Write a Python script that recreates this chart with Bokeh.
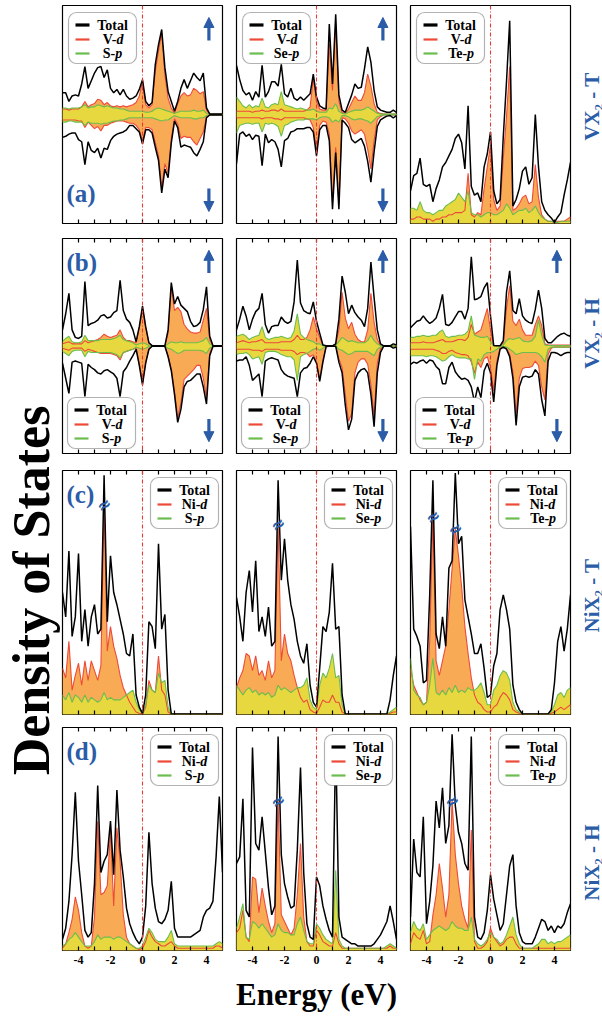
import math
import numpy as np
from bokeh.plotting import figure
from bokeh.layouts import row, column
from bokeh.models import Range1d, Span, BoxAnnotation, Arrow, NormalHead, FixedTicker, LinearAxis
from bokeh.core.properties import value
from bokeh.embed import file_html
from bokeh.resources import INLINE

# ---------------------------------------------------------------- data
energy = [-5.0, -4.8, -4.6, -4.4, -4.2, -4.0, -3.8, -3.6, -3.4, -3.2,
          -3.0, -2.8, -2.6, -2.4, -2.2, -2.0, -1.8, -1.6, -1.4, -1.2,
          -1.0, -0.8, -0.6, -0.4, -0.2, 0.0, 0.2, 0.4, 0.6, 0.8,
          1.0, 1.2, 1.4, 1.6, 1.8, 2.0, 2.2, 2.4, 2.6, 2.8,
          3.0, 3.2, 3.4, 3.6, 3.8, 4.0, 4.2, 4.4, 4.6, 4.8,
          5.0]

labelled_ticks = [-4, -2, 0, 2, 4]
minor_ticks = [-3, -1, 1, 3]
tick_labels = {-4: "-4", -2: "-2", 0: "0", 2: "2", 4: "4"}

row_labels = ["VX\u2082 - T", "VX\u2082 - H", "NiX\u2082 - T", "NiX\u2082 - H"]
panel_letters = ["(a)", "(b)", "(c)", "(d)"]

# VS2 - T (spin polarised)
vs2_t_tot_up = [2.0, 2.0, 1.2, 1.7, 1.8, 1.7, 2.8, 4.4, 2.4, 3.1,
                3.8, 4.3, 4.4, 3.4, 4.1, 2.4, 2.0, 2.3, 1.8, 2.3,
                1.7, 1.4, 1.5, 1.7, 2.3, 3.2, 1.2, 0.8, 1.1, 4.6,
                6.4, 7.8, 4.3, 2.1, 1.2, 0.3, 1.2, 2.4, 3.2, 2.4,
                3.1, 3.8, 3.4, 3.1, 3.8, 0.6, 0.05, 0.05, 0.05, 0.05,
                0.05]
vs2_t_tot_dn = [2.1, 2.0, 1.8, 1.7, 1.7, 2.3, 2.5, 4.6, 2.5, 3.3,
                3.5, 3.1, 4.0, 3.1, 3.2, 2.4, 2.0, 1.8, 1.7, 1.6,
                1.4, 1.0, 1.0, 1.3, 1.6, 2.7, 1.4, 1.4, 1.7, 3.0,
                4.2, 7.2, 5.0, 5.8, 2.6, 0.6, 1.2, 3.0, 2.8, 2.9,
                3.0, 3.5, 3.8, 3.2, 2.5, 0.3, 0.05, 0.05, 0.05, 0.05,
                0.05]
vs2_t_d_up = [0.5, 0.5, 0.4, 0.5, 0.5, 0.5, 0.7, 1.2, 0.7, 0.9,
              1.0, 1.4, 1.3, 0.9, 1.1, 0.8, 0.7, 0.8, 0.7, 0.8,
              0.7, 0.8, 0.9, 1.1, 1.7, 3.0, 0.9, 0.6, 0.9, 4.0,
              5.8, 7.5, 3.6, 1.5, 0.6, 0.1, 1.0, 1.7, 2.0, 1.7,
              1.8, 2.4, 2.2, 1.9, 2.1, 0.4, 0.03, 0.02, 0.02, 0.02,
              0.02]
vs2_t_d_dn = [0.5, 0.5, 0.5, 0.5, 0.5, 0.6, 0.6, 1.2, 0.7, 1.0,
              1.3, 1.1, 1.5, 1.0, 1.0, 0.8, 0.7, 0.6, 0.6, 0.6,
              0.7, 0.8, 0.8, 1.0, 1.4, 2.5, 1.2, 1.2, 1.4, 2.6,
              3.8, 6.8, 4.5, 5.4, 2.2, 0.4, 0.9, 2.2, 2.0, 2.1,
              2.1, 2.5, 2.8, 2.2, 1.6, 0.2, 0.02, 0.02, 0.02, 0.02,
              0.02]
vs2_t_p_up = [0.6, 0.6, 0.5, 0.6, 0.6, 0.6, 0.7, 0.9, 0.6, 0.7,
              0.7, 0.9, 0.8, 0.7, 0.8, 0.7, 0.6, 0.6, 0.5, 0.5,
              0.4, 0.3, 0.3, 0.3, 0.3, 0.3, 0.2, 0.2, 0.3, 0.5,
              0.6, 0.5, 0.4, 0.3, 0.2, 0.1, 0.2, 0.3, 0.3, 0.3,
              0.3, 0.4, 0.3, 0.3, 0.4, 0.1, 0.02, 0.02, 0.02, 0.02,
              0.02]
vs2_t_p_dn = [0.7, 0.7, 0.6, 0.6, 0.7, 0.7, 0.7, 1.0, 0.7, 0.8,
              0.8, 0.8, 0.9, 0.8, 0.8, 0.7, 0.6, 0.6, 0.5, 0.5,
              0.4, 0.3, 0.3, 0.3, 0.3, 0.3, 0.3, 0.3, 0.3, 0.4,
              0.5, 0.6, 0.5, 0.5, 0.3, 0.1, 0.2, 0.3, 0.3, 0.3,
              0.3, 0.4, 0.4, 0.3, 0.3, 0.1, 0.02, 0.02, 0.02, 0.02,
              0.02]

# VSe2 - T (spin polarised)
vse2_t_tot_up = [4.5, 3.2, 2.2, 1.8, 2.0, 1.3, 2.1, 1.6, 4.5, 1.6,
                 2.1, 3.0, 3.0, 2.6, 4.6, 1.9, 1.6, 2.4, 1.5, 1.3,
                 1.6, 1.3, 1.6, 1.9, 3.7, 1.6, 0.8, 0.6, 0.5, 8.3,
                 2.8, 9.2, 1.8, 0.4, 0.2, 1.0, 1.8, 2.8, 2.4, 2.5,
                 4.2, 6.2, 4.8, 2.2, 0.7, 0.4, 0.3, 0.2, 0.2, 0.4,
                 0.2]
vse2_t_tot_dn = [4.5, 1.8, 1.6, 2.0, 1.8, 2.3, 1.9, 2.0, 4.7, 1.8,
                 2.6, 2.3, 2.5, 3.2, 4.8, 2.4, 2.2, 1.6, 1.5, 1.3,
                 1.3, 1.3, 1.2, 1.2, 1.6, 3.8, 1.4, 1.0, 1.0, 2.4,
                 8.7, 3.5, 8.7, 0.5, 0.8, 1.2, 2.3, 2.6, 2.4, 2.2,
                 2.9, 4.3, 6.2, 3.4, 1.1, 0.5, 0.3, 0.15, 0.1, 0.3,
                 0.1]
vse2_t_d_up = [0.3, 0.3, 0.3, 0.3, 0.3, 0.2, 0.3, 0.3, 0.4, 0.3,
               0.3, 0.4, 0.4, 0.3, 0.5, 0.3, 0.3, 0.3, 0.3, 0.3,
               0.3, 0.3, 0.4, 0.7, 3.3, 1.2, 0.5, 0.4, 0.4, 6.5,
               2.2, 8.4, 1.2, 0.2, 0.1, 0.5, 1.1, 1.7, 1.3, 1.3,
               2.0, 3.7, 2.6, 1.0, 0.2, 0.1, 0.05, 0.05, 0.05, 0.05,
               0.05]
vse2_t_d_dn = [0.3, 0.3, 0.3, 0.3, 0.3, 0.3, 0.3, 0.3, 0.4, 0.3,
               0.3, 0.3, 0.4, 0.4, 0.5, 0.3, 0.3, 0.3, 0.3, 0.3,
               0.3, 0.3, 0.4, 0.5, 1.2, 3.4, 1.0, 0.6, 0.7, 1.8,
               8.0, 3.0, 8.3, 0.3, 0.4, 0.8, 1.5, 1.8, 1.6, 1.4,
               1.8, 3.2, 5.0, 2.4, 0.5, 0.2, 0.05, 0.05, 0.05, 0.05,
               0.05]
vse2_t_p_up = [1.6, 1.2, 0.8, 0.6, 0.9, 0.6, 0.8, 0.7, 1.5, 0.7,
               0.6, 0.9, 1.0, 0.9, 2.1, 0.9, 0.8, 0.7, 0.6, 0.5,
               0.6, 0.5, 0.4, 0.4, 0.5, 0.3, 0.2, 0.2, 0.2, 0.6,
               0.5, 1.0, 0.3, 0.1, 0.05, 0.2, 0.3, 0.4, 0.4, 0.4,
               0.5, 0.7, 0.5, 0.3, 0.1, 0.05, 0.03, 0.03, 0.03, 0.03,
               0.03]
vse2_t_p_dn = [1.7, 1.0, 0.9, 0.8, 0.8, 0.9, 0.8, 0.8, 1.6, 0.8,
               0.9, 0.8, 0.9, 1.1, 2.0, 1.0, 0.9, 0.7, 0.6, 0.5,
               0.5, 0.5, 0.4, 0.4, 0.4, 0.5, 0.3, 0.2, 0.2, 0.3,
               0.7, 0.5, 0.7, 0.1, 0.1, 0.2, 0.4, 0.5, 0.4, 0.4,
               0.5, 0.6, 0.8, 0.5, 0.2, 0.1, 0.03, 0.03, 0.03, 0.03,
               0.03]

# VTe2 - T (non-magnetic)
vte2_t_tot = [1.5, 2.2, 2.3, 3.0, 1.8, 1.7, 1.8, 1.0, 1.6, 2.0,
              2.6, 2.8, 3.1, 3.4, 3.9, 4.1, 3.7, 2.5, 5.4, 1.7,
              1.3, 1.4, 1.0, 2.6, 3.2, 4.2, 1.5, 0.9, 1.1, 4.0,
              6.5, 9.3, 0.8, 1.1, 1.6, 2.4, 2.6, 1.8, 2.1, 5.0,
              2.6, 1.0, 0.6, 0.4, 0.25, 0.05, 0.3, 0.5, 1.3, 2.0,
              2.8]
vte2_t_d = [0.2, 0.2, 0.3, 0.3, 0.2, 0.2, 0.2, 0.1, 0.2, 0.2,
            0.3, 0.3, 0.4, 0.4, 0.5, 0.5, 0.5, 0.6, 2.3, 0.4,
            0.3, 0.5, 0.4, 1.6, 2.6, 3.6, 1.1, 0.6, 0.8, 3.0,
            4.9, 7.2, 0.6, 0.7, 0.9, 1.2, 1.3, 0.9, 1.0, 2.7,
            1.2, 0.4, 0.2, 0.1, 0.1, 0.05, 0.1, 0.1, 0.1, 0.2,
            0.3]
vte2_t_p = [0.7, 0.7, 0.6, 1.0, 0.6, 0.5, 0.5, 0.4, 0.5, 0.6,
            0.6, 0.8, 0.9, 1.0, 1.1, 1.4, 1.2, 1.0, 1.5, 0.5,
            0.4, 0.4, 0.3, 0.4, 0.5, 0.5, 0.4, 0.4, 0.5, 0.6,
            0.9, 0.7, 0.4, 0.5, 0.6, 0.6, 0.7, 0.5, 0.6, 0.8,
            0.5, 0.3, 0.2, 0.1, 0.1, 0.05, 0.05, 0.1, 0.1, 0.1,
            0.1]

# VS2 - H (spin polarised)
vs2_h_tot_up = [1.5, 3.0, 4.9, 1.5, 0.8, 0.7, 0.9, 6.0, 1.9, 2.1,
                2.2, 2.4, 2.8, 2.9, 2.6, 2.7, 3.1, 3.3, 6.1, 3.3,
                2.5, 2.2, 1.5, 0.4, 1.8, 3.7, 1.8, 0.3, 0.03, 0.02,
                0.02, 0.02, 0.03, 1.5, 5.9, 3.9, 4.6, 3.8, 3.5, 3.2,
                2.3, 1.8, 1.9, 2.2, 3.4, 5.5, 0.9, 0.05, 0.02, 0.02,
                0.02]
vs2_h_tot_dn = [1.6, 3.0, 4.4, 1.5, 1.4, 1.5, 1.6, 4.7, 1.7, 2.0,
                2.2, 2.5, 2.6, 2.3, 2.2, 2.4, 2.6, 3.0, 4.7, 2.4,
                2.0, 1.4, 0.9, 0.3, 1.8, 3.6, 1.6, 0.3, 0.02, 0.02,
                0.02, 0.02, 0.02, 1.0, 2.3, 4.5, 7.1, 5.9, 3.8, 3.3,
                3.2, 2.9, 2.6, 2.6, 3.8, 5.4, 0.9, 0.05, 0.02, 0.02,
                0.02]
vs2_h_d_up = [0.2, 0.3, 0.4, 0.2, 0.2, 0.2, 0.2, 0.5, 0.3, 0.4,
              0.5, 0.6, 0.8, 1.1, 0.9, 0.8, 0.9, 1.0, 1.5, 0.8,
              0.5, 0.5, 0.4, 0.3, 1.7, 3.5, 1.7, 0.3, 0.02, 0.02,
              0.02, 0.02, 0.02, 1.2, 5.5, 3.3, 3.6, 3.2, 2.0, 1.6,
              1.3, 1.2, 1.2, 1.3, 2.4, 3.5, 0.6, 0.03, 0.02, 0.02,
              0.02]
vs2_h_d_dn = [0.2, 0.3, 0.4, 0.2, 0.2, 0.2, 0.2, 0.5, 0.3, 0.4,
              0.5, 0.6, 0.7, 0.7, 0.7, 0.7, 0.8, 0.9, 1.3, 0.6,
              0.5, 0.4, 0.3, 0.2, 1.7, 3.4, 1.5, 0.3, 0.02, 0.02,
              0.02, 0.02, 0.02, 0.9, 2.1, 4.2, 6.7, 5.3, 3.1, 2.8,
              2.5, 2.2, 1.8, 1.8, 3.0, 4.8, 0.7, 0.03, 0.02, 0.02,
              0.02]
vs2_h_p_up = [0.4, 0.7, 0.9, 0.4, 0.3, 0.3, 0.4, 1.0, 0.5, 0.5,
              0.5, 0.5, 0.6, 0.6, 0.6, 0.6, 0.7, 0.8, 1.0, 0.6,
              0.5, 0.4, 0.3, 0.1, 0.2, 0.3, 0.2, 0.05, 0.02, 0.02,
              0.02, 0.02, 0.02, 0.2, 0.4, 0.3, 0.3, 0.4, 0.3, 0.3,
              0.3, 0.3, 0.3, 0.4, 0.5, 0.8, 0.2, 0.02, 0.02, 0.02,
              0.02]
vs2_h_p_dn = [0.5, 0.7, 0.9, 0.5, 0.4, 0.4, 0.4, 1.0, 0.5, 0.6,
              0.6, 0.6, 0.6, 0.6, 0.6, 0.6, 0.7, 0.8, 1.1, 0.6,
              0.5, 0.4, 0.3, 0.1, 0.2, 0.3, 0.2, 0.05, 0.02, 0.02,
              0.02, 0.02, 0.02, 0.2, 0.3, 0.5, 0.7, 0.6, 0.4, 0.4,
              0.4, 0.4, 0.4, 0.4, 0.5, 0.7, 0.2, 0.02, 0.02, 0.02,
              0.02]

# VSe2 - H (spin polarised)
vse2_h_tot_up = [1.5, 2.5, 3.7, 2.8, 1.5, 2.5, 3.2, 3.5, 4.9, 2.0,
                 1.2, 1.8, 1.9, 1.9, 2.7, 2.3, 2.1, 2.3, 4.1, 8.0,
                 4.0, 3.3, 3.1, 3.0, 4.1, 2.3, 1.2, 0.1, 0.02, 0.02,
                 0.02, 0.2, 2.5, 6.5, 5.0, 3.0, 3.8, 3.1, 2.7, 2.4,
                 1.8, 3.5, 7.8, 4.5, 1.5, 0.2, 0.02, 0.02, 0.02, 0.2,
                 0.1]
vse2_h_tot_dn = [1.4, 1.3, 1.3, 1.0, 1.8, 3.2, 2.9, 2.6, 4.7, 1.4,
                 1.2, 1.1, 1.2, 1.3, 2.2, 2.6, 2.8, 2.9, 3.0, 4.7,
                 2.5, 2.1, 2.0, 1.6, 1.0, 1.6, 3.3, 1.5, 0.05, 0.02,
                 0.02, 0.02, 1.5, 2.5, 5.5, 7.8, 6.8, 3.2, 2.5, 2.2,
                 2.1, 2.5, 4.5, 7.5, 2.5, 0.6, 0.02, 0.02, 0.02, 0.2,
                 0.1]
vse2_h_d_up = [0.3, 0.4, 0.5, 0.4, 0.3, 0.4, 0.4, 0.5, 0.6, 0.3,
               0.3, 0.3, 0.3, 0.3, 0.4, 0.4, 0.4, 0.4, 0.6, 1.0,
               0.6, 0.6, 0.8, 1.5, 2.7, 1.6, 0.8, 0.05, 0.02, 0.02,
               0.02, 0.2, 1.5, 5.0, 2.6, 1.6, 2.2, 1.1, 0.6, 0.4,
               0.4, 1.5, 4.9, 2.2, 0.6, 0.05, 0.02, 0.02, 0.02, 0.05,
               0.03]
vse2_h_d_dn = [0.3, 0.3, 0.3, 0.3, 0.3, 0.4, 0.4, 0.4, 0.5, 0.3,
               0.3, 0.3, 0.3, 0.3, 0.4, 0.4, 0.4, 0.4, 0.5, 0.8,
               0.6, 0.6, 0.7, 1.0, 0.8, 1.5, 3.1, 1.3, 0.05, 0.02,
               0.02, 0.02, 1.2, 2.0, 4.5, 7.0, 6.3, 2.5, 1.5, 1.2,
               1.2, 1.7, 3.6, 6.5, 1.6, 0.3, 0.02, 0.02, 0.02, 0.05,
               0.03]
vse2_h_p_up = [0.9, 1.0, 1.1, 0.9, 0.6, 0.8, 0.9, 1.0, 1.8, 0.8,
               0.6, 0.7, 0.8, 0.8, 0.9, 0.8, 0.7, 0.8, 1.4, 3.0,
               1.1, 0.8, 0.6, 0.5, 0.4, 0.2, 0.2, 0.02, 0.02, 0.02,
               0.02, 0.05, 0.4, 0.8, 0.6, 0.4, 0.5, 0.4, 0.3, 0.3,
               0.3, 0.5, 1.0, 0.5, 0.2, 0.02, 0.02, 0.02, 0.02, 0.02,
               0.02]
vse2_h_p_dn = [0.8, 0.7, 0.7, 0.6, 0.8, 1.2, 1.1, 1.0, 1.7, 0.6,
               0.5, 0.5, 0.5, 0.6, 0.8, 0.9, 1.0, 1.0, 1.3, 3.2,
               1.0, 0.8, 0.7, 0.5, 0.3, 0.2, 0.4, 0.2, 0.02, 0.02,
               0.02, 0.02, 0.3, 0.4, 0.6, 0.8, 0.7, 0.5, 0.5, 0.5,
               0.5, 0.5, 0.7, 0.9, 0.3, 0.1, 0.02, 0.02, 0.02, 0.02,
               0.02]

# VTe2 - H (spin polarised)
vte2_h_tot_up = [1.7, 2.0, 2.3, 2.4, 2.8, 2.4, 2.1, 2.3, 2.6, 3.5,
                 4.8, 2.0, 1.9, 2.2, 2.7, 3.2, 3.2, 2.5, 3.5, 8.3,
                 4.3, 4.4, 4.6, 5.4, 5.9, 2.8, 0.05, 0.02, 0.02, 0.5,
                 5.0, 7.0, 3.3, 3.0, 4.4, 2.8, 2.4, 2.2, 2.1, 3.4,
                 5.2, 3.5, 0.7, 0.3, 0.3, 0.6, 0.9, 1.1, 1.2, 1.0,
                 0.9]
vte2_h_tot_dn = [1.7, 1.5, 1.6, 1.4, 1.3, 1.6, 1.3, 1.4, 1.9, 2.2,
                 3.5, 3.5, 2.0, 1.5, 2.4, 2.8, 3.1, 3.0, 3.2, 3.8,
                 5.2, 3.8, 4.8, 2.3, 1.6, 2.5, 5.2, 1.8, 0.3, 0.1,
                 0.3, 1.0, 3.0, 7.4, 3.8, 2.9, 2.8, 2.9, 2.8, 2.2,
                 2.6, 5.0, 6.5, 1.4, 0.6, 0.6, 0.7, 0.9, 0.7, 0.6,
                 0.6]
vte2_h_d_up = [0.3, 0.3, 0.3, 0.3, 0.4, 0.3, 0.3, 0.3, 0.4, 0.5,
               0.6, 0.4, 0.4, 0.4, 0.5, 0.6, 0.6, 0.5, 0.8, 2.0,
               1.1, 1.3, 1.5, 2.5, 3.5, 1.5, 0.05, 0.02, 0.02, 0.3,
               3.5, 5.6, 2.3, 1.9, 2.5, 1.5, 1.0, 1.0, 1.0, 2.0,
               2.8, 1.9, 0.2, 0.1, 0.1, 0.1, 0.1, 0.1, 0.1, 0.1,
               0.1]
vte2_h_d_dn = [0.3, 0.3, 0.3, 0.3, 0.3, 0.3, 0.3, 0.3, 0.4, 0.5,
               0.7, 0.7, 0.5, 0.4, 0.6, 0.7, 0.8, 0.8, 0.9, 1.5,
               2.5, 1.5, 2.0, 1.2, 1.0, 2.0, 4.2, 1.4, 0.2, 0.05,
               0.2, 0.8, 2.4, 6.3, 3.0, 2.1, 2.0, 2.0, 1.9, 1.4,
               1.8, 3.8, 5.0, 0.8, 0.2, 0.1, 0.1, 0.1, 0.1, 0.1,
               0.1]
vte2_h_p_up = [0.8, 0.8, 0.9, 0.9, 1.0, 0.9, 0.9, 1.0, 1.0, 1.3,
               1.5, 0.9, 0.8, 0.9, 0.9, 1.0, 1.0, 1.1, 1.4, 2.8,
               1.0, 0.9, 0.8, 0.8, 0.9, 0.4, 0.02, 0.02, 0.02, 0.1,
               0.5, 0.7, 0.6, 0.7, 0.8, 0.5, 0.4, 0.4, 0.5, 0.9,
               2.4, 1.0, 0.1, 0.05, 0.05, 0.05, 0.05, 0.05, 0.05, 0.05,
               0.05]
vte2_h_p_dn = [0.9, 0.9, 0.9, 0.9, 0.9, 1.0, 0.9, 0.9, 1.0, 1.2,
               1.4, 1.3, 1.0, 0.8, 1.0, 1.1, 1.1, 1.1, 1.2, 1.2,
               3.1, 1.2, 1.4, 0.8, 0.6, 0.6, 0.5, 0.3, 0.1, 0.03,
               0.1, 0.3, 0.5, 0.8, 0.7, 0.6, 0.6, 0.6, 0.6, 0.6,
               0.7, 1.0, 1.5, 0.3, 0.1, 0.1, 0.1, 0.1, 0.1, 0.1,
               0.1]

# NiS2 - T
nis2_t_tot = [5.0, 4.0, 6.7, 3.2, 4.0, 6.6, 3.0, 4.3, 2.8, 4.0,
              4.5, 3.3, 3.5, 9.8, 3.8, 6.5, 5.0, 4.5, 3.9, 3.3,
              2.5, 2.4, 3.3, 0.8, 0.3, 0.05, 0.8, 3.8, 3.6, 2.7,
              7.0, 3.5, 4.1, 1.0, 0.02, 0.02, 0.02, 0.02, 0.02, 0.02,
              0.02, 0.02, 0.02, 0.02, 0.02, 0.02, 0.02, 0.02, 0.02, 0.02,
              0.02]
nis2_t_d = [1.9, 1.5, 3.0, 1.0, 1.6, 2.1, 1.2, 2.2, 1.4, 2.2,
            1.8, 1.4, 2.0, 8.6, 2.6, 3.6, 2.8, 2.3, 1.6, 1.1,
            0.8, 0.5, 0.3, 0.1, 0.05, 0.02, 0.3, 1.4, 1.0, 0.9,
            2.4, 1.0, 0.8, 0.1, 0.02, 0.02, 0.02, 0.02, 0.02, 0.02,
            0.02, 0.02, 0.02, 0.02, 0.02, 0.02, 0.02, 0.02, 0.02, 0.02,
            0.02]
nis2_t_p = [0.8, 0.6, 0.9, 0.5, 0.8, 0.7, 0.5, 0.8, 0.5, 0.7,
            0.6, 0.5, 0.6, 0.9, 0.6, 0.7, 0.6, 0.6, 0.6, 0.7,
            0.8, 0.9, 1.0, 0.5, 0.2, 0.02, 0.4, 1.2, 1.0, 0.9,
            1.7, 1.3, 1.4, 0.3, 0.02, 0.02, 0.02, 0.02, 0.02, 0.02,
            0.02, 0.02, 0.02, 0.02, 0.02, 0.02, 0.02, 0.02, 0.02, 0.02,
            0.02]

# NiSe2 - T
nise2_t_tot = [4.8, 4.0, 3.0, 5.0, 5.9, 4.2, 6.3, 3.4, 4.0, 3.2,
               4.4, 2.8, 3.0, 9.6, 5.5, 7.2, 5.5, 4.5, 3.9, 3.0,
               2.4, 2.1, 2.9, 1.2, 0.5, 0.3, 1.9, 3.6, 3.4, 4.2,
               6.2, 3.5, 3.6, 0.8, 0.02, 0.02, 0.02, 0.02, 0.02, 0.02,
               0.02, 0.02, 0.02, 0.02, 0.02, 0.02, 0.02, 0.02, 0.6, 1.6,
               2.4]
nise2_t_d = [1.1, 1.5, 1.8, 2.5, 2.4, 1.8, 2.4, 1.6, 1.8, 1.4,
             2.2, 1.5, 1.8, 7.8, 2.2, 3.3, 2.5, 2.2, 1.6, 1.1,
             0.7, 0.5, 0.6, 0.2, 0.1, 0.05, 0.3, 0.6, 0.5, 0.5,
             0.8, 0.5, 0.5, 0.1, 0.02, 0.02, 0.02, 0.02, 0.02, 0.02,
             0.02, 0.02, 0.02, 0.02, 0.02, 0.02, 0.02, 0.02, 0.05, 0.1,
             0.1]
nise2_t_p = [1.2, 1.0, 0.8, 1.0, 1.1, 0.9, 1.0, 0.8, 0.9, 0.8,
             0.9, 0.7, 0.8, 1.2, 1.0, 1.1, 1.0, 0.9, 1.0, 1.1,
             1.1, 1.2, 1.5, 0.6, 0.3, 0.2, 1.2, 1.7, 1.5, 1.9,
             2.5, 1.5, 1.6, 0.4, 0.02, 0.02, 0.02, 0.02, 0.02, 0.02,
             0.02, 0.02, 0.02, 0.02, 0.02, 0.02, 0.02, 0.02, 0.1, 0.2,
             0.3]

# NiTe2 - T
nite2_t_tot = [7.7, 3.5, 3.2, 2.8, 1.3, 1.4, 4.9, 9.6, 3.3, 2.7,
               4.0, 2.8, 6.0, 6.3, 9.9, 7.0, 7.3, 4.7, 4.0, 3.3,
               2.5, 2.5, 2.9, 1.9, 0.7, 0.8, 2.0, 2.5, 4.3, 4.9,
               4.3, 3.5, 1.2, 0.5, 0.2, 0.02, 0.02, 0.02, 0.02, 0.02,
               0.02, 0.02, 0.02, 0.02, 0.2, 1.3, 3.0, 3.6, 2.6, 3.5,
               4.9]
nite2_t_d = [1.9, 1.2, 0.9, 0.6, 0.4, 0.5, 3.0, 8.1, 2.2, 1.6,
             2.2, 2.8, 4.3, 6.0, 7.6, 6.5, 5.2, 3.6, 2.5, 1.5,
             0.8, 0.5, 0.4, 0.2, 0.1, 0.1, 0.3, 0.4, 0.7, 0.9,
             0.8, 0.6, 0.2, 0.1, 0.05, 0.02, 0.02, 0.02, 0.02, 0.02,
             0.02, 0.02, 0.02, 0.02, 0.05, 0.1, 0.2, 0.3, 0.2, 0.3,
             0.4]
nite2_t_p = [2.3, 1.0, 0.8, 0.7, 0.4, 0.5, 1.2, 2.3, 0.9, 0.8,
             1.0, 0.8, 1.1, 0.9, 1.2, 0.9, 1.0, 0.9, 1.1, 1.0,
             1.0, 1.1, 1.3, 0.9, 0.4, 0.4, 1.0, 1.2, 1.6, 1.8,
             1.7, 1.4, 0.5, 0.2, 0.1, 0.02, 0.02, 0.02, 0.02, 0.02,
             0.02, 0.02, 0.02, 0.02, 0.1, 0.4, 0.8, 0.9, 0.7, 1.0,
             1.1]

# NiS2 - H
nis2_h_tot = [0.5, 1.0, 2.2, 4.3, 7.1, 4.0, 2.5, 0.9, 0.6, 0.8,
              3.0, 7.4, 3.5, 4.0, 4.3, 5.8, 3.4, 7.2, 4.5, 3.3,
              1.9, 1.2, 0.8, 0.5, 0.3, 0.6, 2.0, 5.3, 3.0, 1.9,
              1.3, 1.2, 1.4, 1.8, 3.1, 1.0, 0.6, 0.6, 0.6, 0.6,
              0.6, 0.7, 0.8, 0.9, 1.5, 1.8, 1.9, 2.2, 4.2, 6.9,
              3.5]
nis2_h_d = [0.1, 0.3, 0.8, 1.4, 2.4, 1.8, 0.8, 0.2, 0.1, 0.2,
            1.5, 5.8, 2.5, 2.6, 2.9, 5.4, 2.0, 5.5, 4.0, 1.6,
            0.6, 0.3, 0.2, 0.1, 0.05, 0.1, 0.4, 0.9, 0.6, 0.4,
            0.3, 0.2, 0.2, 0.3, 0.4, 0.2, 0.1, 0.1, 0.1, 0.1,
            0.1, 0.1, 0.1, 0.1, 0.1, 0.1, 0.1, 0.1, 0.2, 0.2,
            0.1]
nis2_h_p = [0.2, 0.3, 0.5, 0.6, 0.8, 0.6, 0.4, 0.2, 0.2, 0.2,
            0.4, 0.7, 0.5, 0.6, 0.6, 0.6, 0.5, 0.6, 0.6, 0.5,
            0.4, 0.3, 0.2, 0.1, 0.1, 0.2, 0.6, 1.0, 0.8, 0.5,
            0.4, 0.4, 0.4, 0.6, 0.9, 0.3, 0.2, 0.2, 0.2, 0.2,
            0.2, 0.2, 0.2, 0.2, 0.2, 0.2, 0.2, 0.2, 0.3, 0.4,
            0.3]

# NiSe2 - H
nise2_h_tot = [3.9, 4.2, 6.8, 1.8, 1.5, 9.1, 4.8, 4.5, 6.0, 4.4,
               2.8, 1.6, 2.0, 9.6, 4.3, 3.0, 2.4, 1.9, 2.0, 4.5,
               8.2, 3.5, 1.2, 0.6, 0.5, 3.3, 2.9, 2.0, 1.4, 0.9,
               0.6, 9.5, 1.5, 0.6, 0.5, 0.4, 0.3, 0.3, 0.2, 0.2,
               0.2, 0.2, 0.2, 0.3, 0.5, 0.7, 1.0, 1.3, 2.0, 1.3,
               0.5]
nise2_h_d = [0.8, 1.0, 1.8, 0.6, 0.4, 3.3, 3.2, 1.7, 2.8, 2.0,
             1.3, 0.8, 1.2, 6.7, 1.6, 1.3, 1.0, 0.7, 1.0, 2.5,
             4.8, 1.5, 0.4, 0.2, 0.2, 0.9, 0.7, 0.4, 0.3, 0.2,
             0.2, 0.8, 0.3, 0.1, 0.1, 0.1, 0.1, 0.1, 0.1, 0.1,
             0.1, 0.1, 0.1, 0.1, 0.1, 0.1, 0.1, 0.1, 0.2, 0.1,
             0.1]
nise2_h_p = [1.0, 1.5, 2.1, 0.6, 0.5, 1.3, 1.2, 1.0, 1.2, 1.0,
             0.8, 0.6, 0.7, 1.2, 0.9, 0.8, 0.8, 0.7, 0.7, 1.2,
             1.5, 0.9, 0.4, 0.3, 0.3, 1.2, 1.0, 0.7, 0.5, 0.4,
             0.3, 3.6, 0.5, 0.2, 0.1, 0.1, 0.1, 0.1, 0.1, 0.1,
             0.1, 0.1, 0.1, 0.1, 0.1, 0.1, 0.1, 0.2, 0.3, 0.2,
             0.1]

# NiTe2 - H
nite2_h_tot = [1.5, 5.0, 3.5, 3.3, 6.0, 1.2, 2.2, 3.8, 6.7, 5.5,
               7.3, 4.8, 5.6, 9.7, 6.5, 5.3, 4.8, 3.9, 3.6, 9.6,
               1.5, 0.6, 0.5, 0.8, 1.8, 3.4, 2.3, 1.6, 0.9, 1.2,
               2.5, 3.8, 4.3, 2.0, 0.8, 0.4, 0.3, 0.3, 0.3, 0.6,
               1.0, 1.4, 1.3, 0.9, 1.1, 0.8, 1.1, 1.0, 1.2, 1.7,
               2.1]
nite2_h_d = [0.3, 0.8, 0.6, 0.5, 0.9, 0.3, 0.4, 1.6, 2.5, 3.9,
             2.8, 1.5, 2.5, 6.7, 4.3, 3.0, 2.0, 1.4, 1.0, 5.4,
             0.4, 0.1, 0.1, 0.2, 0.4, 1.0, 0.6, 0.4, 0.2, 0.3,
             0.5, 0.6, 0.6, 0.3, 0.1, 0.1, 0.1, 0.1, 0.1, 0.1,
             0.1, 0.1, 0.1, 0.1, 0.1, 0.1, 0.1, 0.1, 0.1, 0.1,
             0.1]
nite2_h_p = [0.8, 1.3, 1.0, 0.9, 1.2, 0.5, 0.7, 0.9, 1.0, 1.1,
             1.0, 0.9, 1.0, 1.3, 1.1, 1.0, 1.0, 0.9, 0.9, 1.5,
             0.5, 0.3, 0.2, 0.3, 0.5, 0.8, 0.6, 0.5, 0.3, 0.4,
             0.7, 1.1, 1.5, 0.7, 0.3, 0.1, 0.1, 0.1, 0.1, 0.2,
             0.3, 0.5, 0.5, 0.3, 0.4, 0.3, 0.4, 0.4, 0.5, 0.6,
             0.7]

# ---------------------------------------------------------------- style
SERIF = "Liberation Serif"
BLUE = "#2b5ca8"
ORANGE = "#f8aa55"
RED = "#ee4a3a"
YELLOW = "#e7d840"
GREEN = "#6bbd4f"
ZERO_RED = "#e53b30"

X_RANGE = (-5.0, 5.0)
FRAME_W = 160
COL_GEOM = [(1, 7), (7, 7), (7, 2)]                    # border left / right
ROW_GEOM = [(5, 218, 7), (8, 215, 8), (9, 244, 6), (7, 223, 81)]  # top, frame, bottom
LEG_W, LEG_H = 68, 51
PREFIX_EM = {"V-": 1.055, "Ni-": 1.333, "S-": 0.889, "Se-": 1.333, "Te-": 1.444}

panels = [
    # row 0 : VX2 - T
    dict(r=0, c=0, spin=True, tot=(vs2_t_tot_up, vs2_t_tot_dn), d=(vs2_t_d_up, vs2_t_d_dn),
         p=(vs2_t_p_up, vs2_t_p_dn), metal="V-", chal="S-", breaks=[]),
    dict(r=0, c=1, spin=True, tot=(vse2_t_tot_up, vse2_t_tot_dn), d=(vse2_t_d_up, vse2_t_d_dn),
         p=(vse2_t_p_up, vse2_t_p_dn), metal="V-", chal="Se-", breaks=[]),
    dict(r=0, c=2, spin=False, tot=vte2_t_tot, d=vte2_t_d, p=vte2_t_p, metal="V-", chal="Te-", breaks=[]),
    # row 1 : VX2 - H
    dict(r=1, c=0, spin=True, tot=(vs2_h_tot_up, vs2_h_tot_dn), d=(vs2_h_d_up, vs2_h_d_dn),
         p=(vs2_h_p_up, vs2_h_p_dn), metal="V-", chal="S-", breaks=[]),
    dict(r=1, c=1, spin=True, tot=(vse2_h_tot_up, vse2_h_tot_dn), d=(vse2_h_d_up, vse2_h_d_dn),
         p=(vse2_h_p_up, vse2_h_p_dn), metal="V-", chal="Se-", breaks=[]),
    dict(r=1, c=2, spin=True, tot=(vte2_h_tot_up, vte2_h_tot_dn), d=(vte2_h_d_up, vte2_h_d_dn),
         p=(vte2_h_p_up, vte2_h_p_dn), metal="V-", chal="Te-", breaks=[]),
    # row 2 : NiX2 - T
    dict(r=2, c=0, spin=False, tot=nis2_t_tot, d=nis2_t_d, p=nis2_t_p, metal="Ni-", chal="S-", breaks=[13]),
    dict(r=2, c=1, spin=False, tot=nise2_t_tot, d=nise2_t_d, p=nise2_t_p, metal="Ni-", chal="Se-", breaks=[13]),
    dict(r=2, c=2, spin=False, tot=nite2_t_tot, d=nite2_t_d, p=nite2_t_p, metal="Ni-", chal="Te-", breaks=[7, 14]),
    # row 3 : NiX2 - H
    dict(r=3, c=0, spin=False, tot=nis2_h_tot, d=nis2_h_d, p=nis2_h_p, metal="Ni-", chal="S-", breaks=[]),
    dict(r=3, c=1, spin=False, tot=nise2_h_tot, d=nise2_h_d, p=nise2_h_p, metal="Ni-", chal="Se-", breaks=[13]),
    dict(r=3, c=2, spin=False, tot=nite2_h_tot, d=nite2_h_d, p=nite2_h_p, metal="Ni-", chal="Te-", breaks=[13]),
]


def tick_axis(with_labels):
    ax = LinearAxis(ticker=FixedTicker(ticks=labelled_ticks, minor_ticks=minor_ticks),
                    major_tick_in=4, major_tick_out=0, minor_tick_in=4, minor_tick_out=0,
                    axis_line_color=None, major_tick_line_color="black", major_tick_line_width=1.2,
                    minor_tick_line_color="black", minor_tick_line_width=1.2)
    if with_labels:
        ax.major_label_overrides = tick_labels
        ax.major_label_text_font = SERIF
        ax.major_label_text_font_style = "bold"
        ax.major_label_text_font_size = "12px"
        ax.major_label_text_color = "black"
        ax.major_label_standoff = 5
    else:
        ax.major_label_text_font_size = "0px"
        ax.major_label_text_color = None
        ax.major_label_standoff = 0
    return ax


def build_panel(spec):
    r, c = spec["r"], spec["c"]
    bt, fh, bb = ROW_GEOM[r]
    bl, br = COL_GEOM[c]
    yr = (-10.0, 10.0) if spec["spin"] else (0.0, 10.0)
    p = figure(width=bl + FRAME_W + br, height=bt + fh + bb,
               x_range=Range1d(*X_RANGE), y_range=Range1d(*yr),
               x_axis_type=None, y_axis_type=None, toolbar_location=None,
               output_backend="svg", min_border_left=bl, min_border_right=br,
               min_border_top=bt, min_border_bottom=bb)
    p.outline_line_color = "black"
    p.outline_line_width = 1.2
    p.outline_line_alpha = 1.0
    p.background_fill_color = "white"
    p.border_fill_color = "white"

    xs_per_px = (X_RANGE[1] - X_RANGE[0]) / FRAME_W
    ys_per_px = (yr[1] - yr[0]) / fh

    def xd(px):
        return X_RANGE[0] + px * xs_per_px

    def yd(py):
        return yr[1] - py * ys_per_px

    # axes carrying the inward ticks
    bottom = tick_axis(r == 3)
    if r == 3 and c == 1:
        bottom.axis_label = "Energy (eV)"
        bottom.axis_label_text_font = SERIF
        bottom.axis_label_text_font_style = "bold"
        bottom.axis_label_text_font_size = "31px"
        bottom.axis_label_text_color = "black"
        bottom.axis_label_standoff = 10
    p.add_layout(bottom, "below")
    if r > 0:
        p.add_layout(tick_axis(False), "above")

    x = energy
    if spec["spin"]:
        tu, tdn = np.array(spec["tot"][0]), -np.array(spec["tot"][1])
        du, ddn = np.array(spec["d"][0]), -np.array(spec["d"][1])
        pu, pdn = np.array(spec["p"][0]), -np.array(spec["p"][1])
        p.varea(x=x, y1=ddn, y2=du, fill_color=ORANGE)
        p.varea(x=x, y1=pdn, y2=pu, fill_color=YELLOW)
        for arr in (du, ddn):
            p.line(x, arr, line_color=RED, line_width=1.1)
        for arr in (pu, pdn):
            p.line(x, arr, line_color=GREEN, line_width=1.1)
        for arr in (tu, tdn):
            p.line(x, arr, line_color="black", line_width=1.5)
        # spin-channel arrows
        for sgn in (1, -1):
            p.add_layout(Arrow(end=NormalHead(size=10, fill_color=BLUE, line_color=BLUE),
                               x_start=4.15, y_start=sgn * 6.8, x_end=4.15, y_end=sgn * 8.9,
                               line_color=BLUE, line_width=3.2))
    else:
        d = np.array(spec["d"])
        pp = np.array(spec["p"])
        t = np.array(spec["tot"])
        p.varea(x=x, y1=0, y2=d, fill_color=ORANGE)
        p.varea(x=x, y1=0, y2=pp, fill_color=YELLOW)
        p.line(x, d, line_color=RED, line_width=1.1)
        p.line(x, pp, line_color=GREEN, line_width=1.1)
        p.line(x, t, line_color="black", line_width=1.5)
        # axis-break marks on truncated peaks
        for i in spec["breaks"]:
            p.text(x=[energy[i]], y=[spec["d"][i]], text=["\u2248"], angle=0.6,
                   text_align="center", text_baseline="middle", text_color=BLUE,
                   text_font=value("DejaVu Sans"), text_font_style="bold", text_font_size="17px",
                   level="overlay")

    # Fermi level
    p.add_layout(Span(location=0, dimension="height", line_color=ZERO_RED,
                      line_dash="4 2 1 2", line_width=1.1))

    # legend box
    if r == 0:
        lx, ly = 6, 7
    elif r == 1:
        lx, ly = 5, fh - LEG_H - 5
    else:
        lx, ly = FRAME_W - LEG_W - 4, 7
    p.add_layout(BoxAnnotation(left=xd(lx), right=xd(lx + LEG_W), top=yd(ly), bottom=yd(ly + LEG_H),
                               fill_color="white", fill_alpha=1.0, line_color="black",
                               line_width=1.2, border_radius=8))
    entries = [("Total", None, "black", 3.2), (spec["metal"], "d", RED, 2.2), (spec["chal"], "p", GREEN, 2.2)]
    fs = 14
    for k, (pre, suf, col, lw) in enumerate(entries):
        yy = yd(ly + [12.5, 27.0, 41.0][k])
        p.segment(x0=[xd(lx + 7)], y0=[yy], x1=[xd(lx + 21)], y1=[yy], line_color=col,
                  line_width=lw, level="overlay")
        common = dict(text_baseline="middle", text_color="black", text_font=value(SERIF),
                      text_font_size=f"{fs}px", level="overlay")
        if suf is None:
            p.text(x=[xd(lx + 44)], y=[yy], text=[pre], text_align="center",
                   text_font_style="bold", **common)
        else:
            join = 44 + (PREFIX_EM[pre] * fs - 0.5 * fs) / 2
            p.text(x=[xd(lx + join)], y=[yy], text=[pre], text_align="right",
                   text_font_style="bold", **common)
            p.text(x=[xd(lx + join)], y=[yy], text=[suf], text_align="left",
                   text_font_style="bold italic", **common)

    # panel letter
    if c == 0:
        ly_letter = 188 if r == 0 else 24
        p.text(x=[xd(4)], y=[yd(ly_letter)], text=[panel_letters[r]], text_align="left",
               text_baseline="middle", text_color=BLUE, text_font=value(SERIF),
               text_font_style="bold", text_font_size="25px", level="overlay")
    return p


figs = [build_panel(s) for s in panels]
rows = [row(*figs[i * 3:(i + 1) * 3], spacing=0) for i in range(4)]
grid = column(*rows, spacing=0)

TOTAL_H = sum(a + b + c for a, b, c in ROW_GEOM)

left = figure(width=61, height=TOTAL_H, x_range=Range1d(0, 61), y_range=Range1d(0, TOTAL_H),
              x_axis_type=None, y_axis_type=None, toolbar_location=None, output_backend="svg",
              min_border=0, outline_line_color=None)
left.text(x=[31], y=[TOTAL_H - 590], text=["Density of States"], angle=math.pi / 2,
          text_align="center", text_baseline="middle", text_color="black",
          text_font=value(SERIF), text_font_style="bold", text_font_size="52px")

right = figure(width=30, height=TOTAL_H, x_range=Range1d(0, 30), y_range=Range1d(0, TOTAL_H),
               x_axis_type=None, y_axis_type=None, toolbar_location=None, output_backend="svg",
               min_border=0, outline_line_color=None)
label_y = [106, 333, 595, 862]
right.text(x=[19] * 4, y=[TOTAL_H - v for v in label_y], text=row_labels, angle=math.pi / 2,
           text_align="center", text_baseline="middle", text_color=BLUE,
           text_font=value(SERIF), text_font_style="bold", text_font_size="21px")

layout = row(left, grid, right, spacing=0)
open("out.html", "w").write(file_html(layout, INLINE))
